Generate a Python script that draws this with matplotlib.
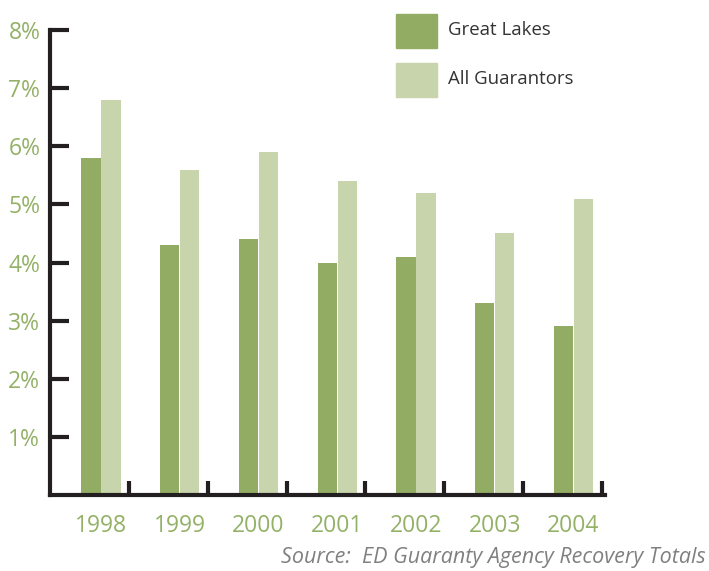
import numpy as np
import matplotlib.pyplot as plt
from matplotlib.patches import Rectangle

years = ["1998", "1999", "2000", "2001", "2002", "2003", "2004"]
great_lakes = [5.8, 4.3, 4.4, 4.0, 4.1, 3.3, 2.9]
all_guarantors = [6.8, 5.6, 5.9, 5.4, 5.2, 4.5, 5.1]

dark_green = "#92ad63"
light_green = "#c8d4ab"
label_green = "#93b167"
ink = "#231f20"

plt.rcParams["font.family"] = ["Open Sans", "DejaVu Sans"]

fig = plt.figure(figsize=(7.09, 5.71), dpi=100)
ax = fig.add_axes([50 / 709, 76 / 571, 555 / 709, 465 / 571])

x = np.arange(len(years))
w = 0.245
ax.bar(x - 0.128, great_lakes, w, color=dark_green, zorder=1)
ax.bar(x + 0.128, all_guarantors, w, color=light_green, zorder=1)

ax.set_xlim(-0.648, 6.40)
ax.set_ylim(0, 8)

for s in ["top", "right"]:
    ax.spines[s].set_visible(False)
for s in ["left", "bottom"]:
    ax.spines[s].set_color(ink)
    ax.spines[s].set_linewidth(3)
    ax.spines[s].set_zorder(3)

ax.set_yticks(range(1, 9))
ax.set_yticklabels([f"{i}%" for i in range(1, 9)])
ax.tick_params(axis="y", direction="in", length=14, width=3, color=ink,
               labelsize=16.5, labelcolor=label_green, pad=7)

ax.set_xticks(x + 0.356, minor=True)
ax.set_xticks(x)
ax.set_xticklabels(years)
ax.tick_params(axis="x", which="major", length=0, labelsize=16.5,
               labelcolor=label_green, pad=14)
ax.tick_params(axis="x", which="minor", direction="in", length=10, width=3,
               color=ink)

# legend
for i, (lab, col) in enumerate([("Great Lakes", dark_green),
                                ("All Guarantors", light_green)]):
    y0 = 1 - (48 + 49 * i) / 571
    fig.patches.append(Rectangle((396 / 709, y0), 41 / 709, 34 / 571,
                                 transform=fig.transFigure, color=col))
    fig.text(448 / 709, y0 + 18 / 571, lab, fontsize=13.4, color="#333333",
             va="center", ha="left")

fig.text(706 / 709, 1 - 558 / 571, "Source:  ED Guaranty Agency Recovery Totals",
         fontsize=15.5, style="italic", color="#808080", ha="right", va="center")

fig.savefig("out.png", dpi=100)
